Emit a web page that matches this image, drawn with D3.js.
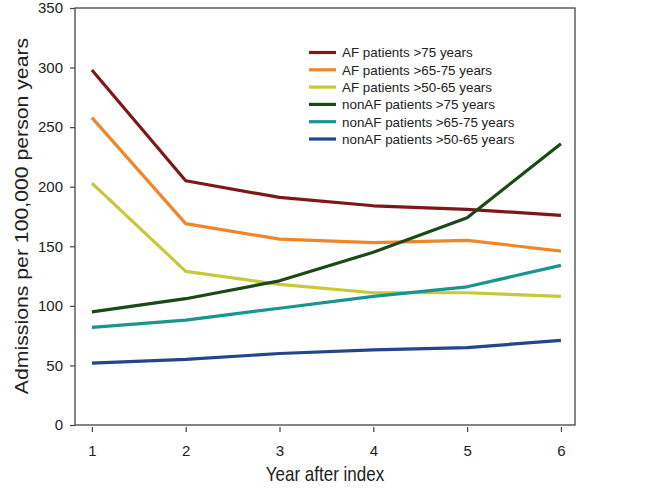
<!DOCTYPE html>
<html><head><meta charset="utf-8">
<script src="https://cdn.jsdelivr.net/npm/d3@7"></script>
<style>body{margin:0;background:#fff}svg{display:block}</style>
</head><body>
<svg id="c" width="659" height="494"></svg>
<script>
const years = [1, 2, 3, 4, 5, 6];
const seriesNames = ["AF patients >75 years","AF patients >65-75 years","AF patients >50-65 years","nonAF patients >75 years","nonAF patients >65-75 years","nonAF patients >50-65 years"];
const afOver75 = [298, 205, 191, 184, 181, 176];
const af65to75 = [258, 169, 156, 153, 155, 146];
const af50to65 = [203, 129, 118, 111, 111, 108];
const nonAfOver75 = [95, 106, 121, 145, 174, 236];
const nonAf65to75 = [82, 88, 98, 108, 116, 134];
const nonAf50to65 = [52, 55, 60, 63, 65, 71];
const yTicks = [0, 50, 100, 150, 200, 250, 300, 350];
const colors = ["#7f1719","#f0862a","#c6c93a","#1a4a18","#17958f","#23468a"];
const allSeries = [afOver75, af65to75, af50to65, nonAfOver75, nonAf65to75, nonAf50to65];

const svg = d3.select("#c");
const L = 75, R = 575, T = 8, B = 425;
const x = d3.scaleLinear().domain([0.82, 6.15]).range([L, R]);
const y = d3.scaleLinear().domain([0, 350]).range([B, T]);
const font = "'Liberation Sans', Arial, sans-serif";

// frame
svg.append("rect").attr("x", L).attr("y", T).attr("width", R - L).attr("height", B - T)
  .attr("fill", "none").attr("stroke", "#444").attr("stroke-width", 1.3);

// y axis
const ya = svg.append("g").attr("transform", `translate(${L},0)`)
  .call(d3.axisLeft(y).tickValues(yTicks).tickSize(5).tickPadding(7));
// x axis
const xa = svg.append("g").attr("transform", `translate(0,${B + 2})`)
  .call(d3.axisBottom(x).tickValues(years).tickSize(5).tickPadding(13).tickFormat(d3.format("d")));
[ya, xa].forEach(g => {
  g.select(".domain").remove();
  g.selectAll("line").attr("stroke", "#444").attr("stroke-width", 1.2);
  g.selectAll("text").attr("font-family", font).attr("font-size", 15).attr("fill", "#222");
});

// lines
const line = d3.line().x((d, i) => x(years[i])).y(d => y(d));
allSeries.forEach((s, k) => {
  svg.append("path").datum(s).attr("d", line).attr("fill", "none")
    .attr("stroke", colors[k]).attr("stroke-width", 3.2).attr("stroke-linejoin", "round");
});

// legend
const lg = svg.append("g");
seriesNames.forEach((n, k) => {
  const yy = 52.5 + k * 17.3;
  lg.append("line").attr("x1", 309).attr("x2", 336).attr("y1", yy).attr("y2", yy)
    .attr("stroke", colors[k]).attr("stroke-width", 3.2);
  lg.append("text").attr("x", 342).attr("y", yy + 4.8).text(n)
    .attr("font-family", font).attr("font-size", 13.4).attr("fill", "#222");
});

// axis titles
svg.append("text").attr("transform", "translate(325,481) scale(1,1.2)").attr("text-anchor", "middle")
  .attr("font-family", font).attr("font-size", 17).attr("fill", "#222").text("Year after index");
svg.append("text").attr("transform", "translate(28,216) rotate(-90) scale(1.18,1)").attr("text-anchor", "middle")
  .attr("font-family", font).attr("font-size", 18).attr("fill", "#222").text("Admissions per 100,000 person years");
</script>
</body></html>
